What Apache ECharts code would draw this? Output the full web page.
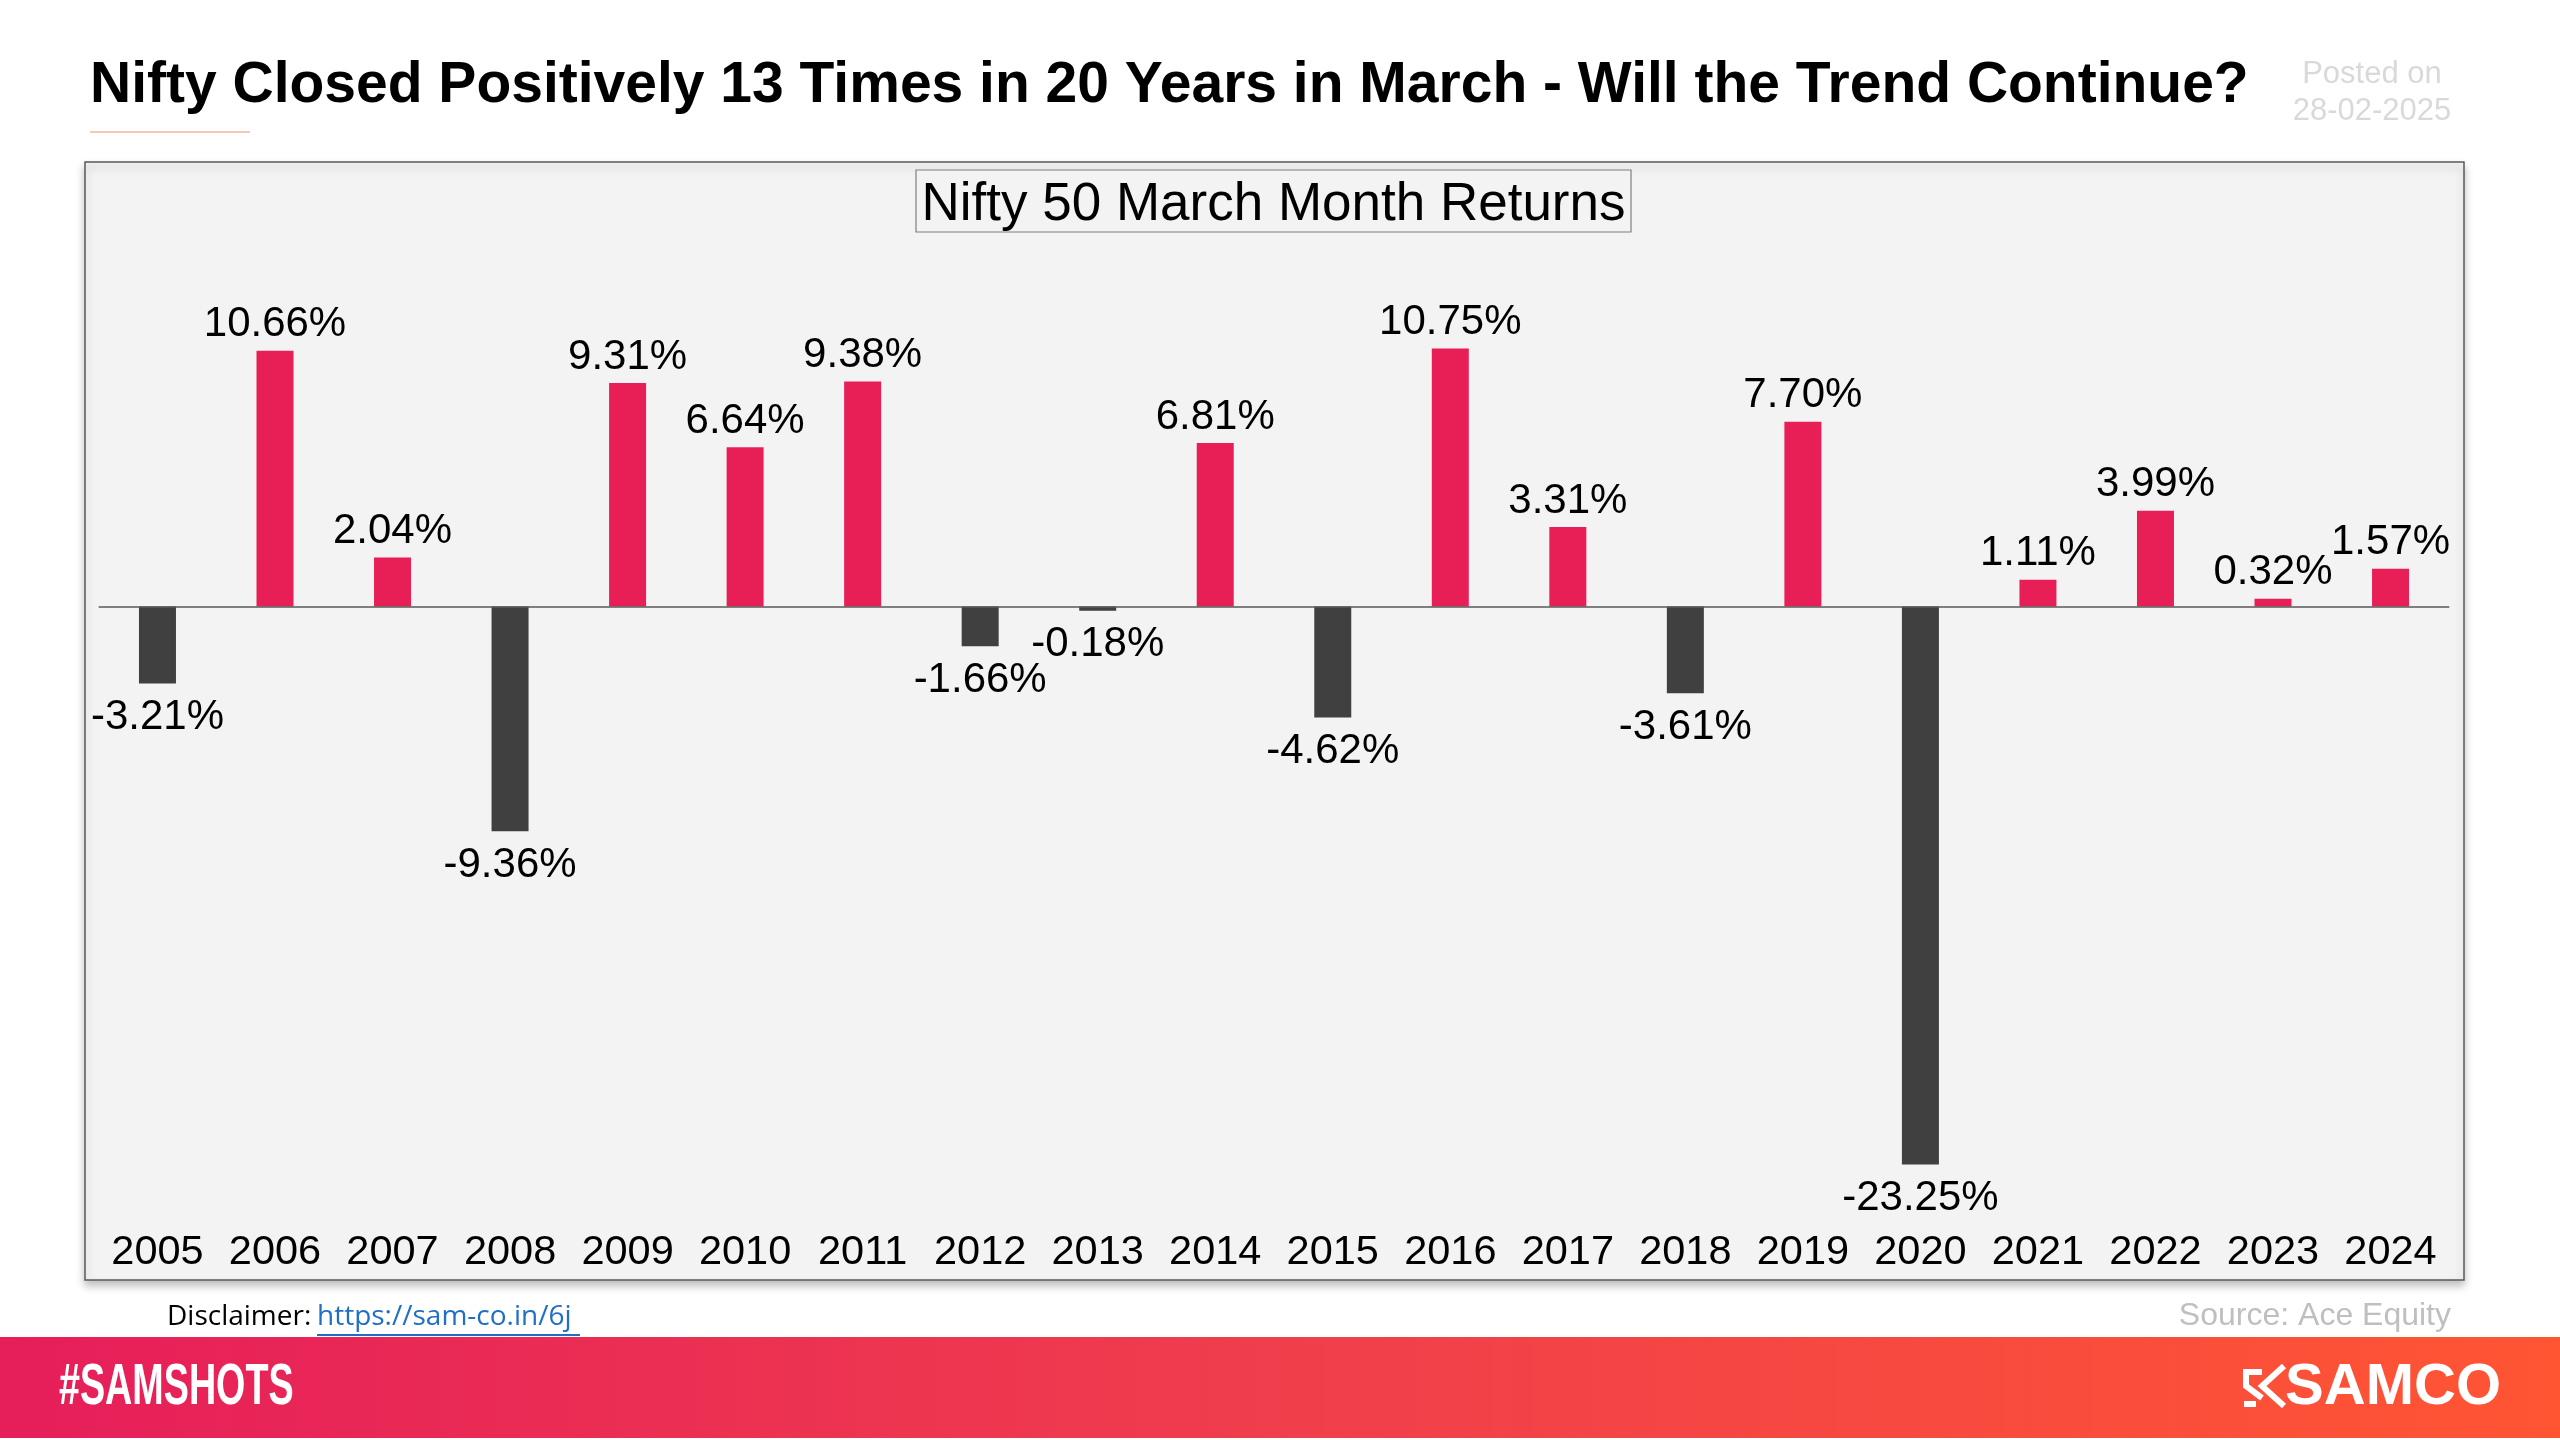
<!DOCTYPE html>
<html>
<head>
<meta charset="utf-8">
<style>
html,body{margin:0;padding:0;background:#fff;}
#chart{width:2560px;height:1440px;}
</style>
<script src="https://cdn.jsdelivr.net/npm/echarts@6/dist/echarts.min.js"></script>
</head>
<body>
<div id="chart"></div>
<script>
const years = ['2005','2006','2007','2008','2009','2010','2011','2012','2013','2014','2015','2016','2017','2018','2019','2020','2021','2022','2023','2024'];
const returns = [-3.21, 10.66, 2.04, -9.36, 9.31, 6.64, 9.38, -1.66, -0.18, 6.81, -4.62, 10.75, 3.31, -3.61, 7.70, -23.25, 1.11, 3.99, 0.32, 1.57];
const mainTitle = 'Nifty Closed Positively 13 Times in 20 Years in March - Will the Trend Continue?';
const chartTitle = 'Nifty 50 March Month Returns';
const postedOn = ['Posted on', '28-02-2025'];
const disclaimerText = 'Disclaimer: ';
const disclaimerLink = 'https://sam-co.in/6j';
const sourceText = 'Source: Ace Equity';

const POS = '#E81F57';
const NEG = '#404040';
const FONT = 'Arial, "Liberation Sans", sans-serif';

const chart = echarts.init(document.getElementById('chart'));

const barData = returns.map(v => ({
  value: v,
  itemStyle: { color: v >= 0 ? POS : NEG },
  label: { position: v >= 0 ? 'top' : 'bottom', distance: v >= 0 ? 5 : 13 }
}));

const option = {
  backgroundColor: '#ffffff',
  animation: false,
  grid: { left: 98.7, right: 110.7, top: 246.5, bottom: 233.5, containLabel: false },
  xAxis: {
    type: 'category',
    data: years,
    axisLine: { show: false },
    axisTick: { show: false },
    axisLabel: { color: '#000', fontSize: 41.5, fontFamily: FONT, margin: 25, interval: 0 },
    splitLine: { show: false }
  },
  yAxis: {
    type: 'value',
    min: -25,
    max: 15,
    show: false,
    splitLine: { show: false }
  },
  series: [{
    type: 'bar',
    data: barData,
    barWidth: 37,
    z: 3,
    label: {
      show: true,
      color: '#000',
      fontSize: 42,
      fontFamily: FONT,
      formatter: p => p.value.toFixed(2) + '%'
    },
    markLine: {
      silent: true,
      symbol: 'none',
      label: { show: false },
      lineStyle: { color: '#595959', width: 1.5, type: 'solid' },
      emphasis: { disabled: true },
      data: [{ yAxis: 0 }]
    }
  }],
  graphic: [
    // chart box
    { type: 'rect', z: -10, shape: { x: 85, y: 162, width: 2379, height: 1118 },
      style: { fill: '#f3f3f3', stroke: '#595959', lineWidth: 1.5, shadowBlur: 8, shadowOffsetY: 5, shadowColor: 'rgba(0,0,0,0.25)' } },
    // inner title box
    { type: 'rect', z: -5, shape: { x: 916, y: 170, width: 715, height: 62 },
      style: { fill: '#f3f3f3', stroke: '#7f7f7f', lineWidth: 1.2 } },
    { type: 'text', z: -4, x: 1273.5, y: 205,
      style: { text: chartTitle, font: '53px ' + FONT, fill: '#000', align: 'center', verticalAlign: 'middle' } },
    // main title
    { type: 'text', x: 90, y: 86,
      style: { text: mainTitle, font: 'bold 57px ' + FONT, fill: '#000', align: 'left', verticalAlign: 'middle' } },
    // underline
    { type: 'line', shape: { x1: 90, y1: 132, x2: 250, y2: 132 }, style: { stroke: '#f4c9b4', lineWidth: 2 } },
    // posted on
    { type: 'text', x: 2372, y: 74,
      style: { text: postedOn[0], font: '31px ' + FONT, fill: '#d9d9d9', align: 'center', verticalAlign: 'middle' } },
    { type: 'text', x: 2372, y: 111,
      style: { text: postedOn[1], font: '31px ' + FONT, fill: '#d9d9d9', align: 'center', verticalAlign: 'middle' } },
    // disclaimer
    { type: 'text', x: 167, y: 1317,
      style: { text: disclaimerText, font: '28px "Open Sans", sans-serif', fill: '#000', align: 'left', verticalAlign: 'middle' } },
    { type: 'text', x: 317, y: 1317,
      style: { text: disclaimerLink, font: '28px "Open Sans", sans-serif', fill: '#1f6fc5', align: 'left', verticalAlign: 'middle' } },
    { type: 'line', shape: { x1: 317, y1: 1335, x2: 580, y2: 1335 }, style: { stroke: '#1f6fc5', lineWidth: 2 } },
    // source
    { type: 'text', x: 2451, y: 1316,
      style: { text: sourceText, font: '32px ' + FONT, fill: '#bfbfbf', align: 'right', verticalAlign: 'middle' } },
    // banner
    { type: 'rect', shape: { x: 0, y: 1337, width: 2560, height: 101 },
      style: { fill: new echarts.graphic.LinearGradient(0, 0, 1, 0, [
        { offset: 0, color: '#E61E5A' }, { offset: 0.5, color: '#F03E4C' }, { offset: 1, color: '#FF5533' }
      ]) } },
    { type: 'text', x: 59, y: 1388, scaleX: 0.65,
      style: { text: '#SAMSHOTS', font: 'bold 58px ' + FONT, fill: '#fff', align: 'left', verticalAlign: 'middle' } },
    { type: 'text', x: 2501, y: 1388,
      style: { text: 'SAMCO', font: '900 58px ' + FONT, fill: '#fff', align: 'right', verticalAlign: 'middle' } },
    // SAMCO icon approximation
    { type: 'polyline', shape: { points: [[2262, 1372], [2246, 1372], [2246, 1386], [2262, 1398]] },
      style: { stroke: '#fff', lineWidth: 6, fill: null, lineJoin: 'miter' } },
    { type: 'polyline', shape: { points: [[2284, 1366], [2262, 1386], [2284, 1406]] },
      style: { stroke: '#fff', lineWidth: 6, fill: null } },
    { type: 'polyline', shape: { points: [[2244, 1404], [2256, 1404]] },
      style: { stroke: '#fff', lineWidth: 6, fill: null } }
  ]
};
chart.setOption(option);
</script>
</body>
</html>
